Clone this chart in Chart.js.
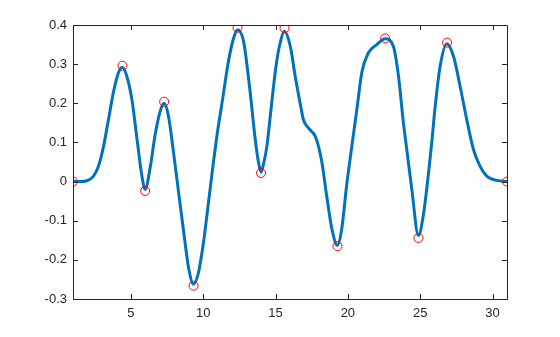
<!DOCTYPE html>
<html>
<head>
<meta charset="utf-8">
<script src="https://cdn.jsdelivr.net/npm/chart.js@4/dist/chart.umd.min.js"></script>
<style>
  html, body { margin: 0; padding: 0; background: #fff; }
  #grafico { display: block; }
</style>
</head>
<body>
<canvas id="grafico" width="560" height="337"></canvas>
<script>
// curva suavizada
const curveX = [1, 1.5, 1.96, 2.42, 2.76, 3.11, 3.45, 3.8, 4.14, 4.42, 4.72, 5.07, 5.42, 5.76, 5.99,
  6.34, 6.68, 7.03, 7.3, 7.6, 7.95, 8.29, 8.64, 8.98, 9.33, 9.67, 10.02, 10.36, 10.71, 11.0,
  11.29, 11.75, 12.09, 12.37, 12.78, 13.25, 13.59, 13.82, 14.0, 14.17, 14.4, 14.63, 14.86, 15.09,
  15.32, 15.6, 16.02, 16.36, 16.7, 16.93, 17.27, 17.74, 17.97, 18.2, 18.55, 18.89, 19.28, 19.58,
  19.93, 20.2, 20.62, 20.97, 21.42, 22.0, 22.58, 23.15, 23.5, 23.84, 24.08, 24.42, 24.88, 25.22,
  25.57, 25.8, 26.03, 26.38, 26.84, 27.3, 27.76, 28.22, 28.68, 29.14, 29.6, 30.29, 31];
const curveY = [0, 0, 0.002, 0.014, 0.039, 0.09, 0.158, 0.229, 0.278, 0.292, 0.269, 0.21, 0.11, 0.015, -0.02,
  0.037, 0.12, 0.18, 0.2, 0.167, 0.074, -0.025, -0.125, -0.218, -0.262, -0.233, -0.155, -0.055, 0.05, 0.13,
  0.198, 0.308, 0.365, 0.388, 0.36, 0.227, 0.11, 0.05, 0.024, 0.045, 0.09, 0.165, 0.243, 0.31,
  0.354, 0.384, 0.346, 0.269, 0.2, 0.158, 0.137, 0.116, 0.09, 0.05, -0.04, -0.12, -0.163, -0.12,
  -0.005, 0.07, 0.184, 0.28, 0.329, 0.35, 0.365, 0.345, 0.269, 0.15, 0.08, -0.02, -0.138, -0.085,
  0.02, 0.1, 0.19, 0.295, 0.352, 0.32, 0.243, 0.158, 0.082, 0.039, 0.014, 0.003, 0];

// extremos marcados con circulos rojos
const peakX = [1, 4.42, 5.99, 7.3, 9.33, 12.37, 14.0, 15.62, 19.28, 22.58, 24.88, 26.86, 31];
const peakY = [0, 0.296, -0.024, 0.204, -0.266, 0.393, 0.022, 0.392, -0.165, 0.366, -0.144, 0.355, 0];

const xTicks = [5, 10, 15, 20, 25, 30];
const yTicks = [-0.3, -0.2, -0.1, 0, 0.1, 0.2, 0.3, 0.4];

const axisColor = '#262626';

// caja y marcas hacia adentro, estilo octave
const boxPlugin = {
    id: 'caja',
    afterDraw(chart) {
        const ctx = chart.ctx;
        const a = chart.chartArea;
        const xs = chart.scales.x;
        const ys = chart.scales.y;
        const tl = 5;
        ctx.save();
        ctx.strokeStyle = axisColor;
        ctx.lineWidth = 1;
        ctx.beginPath();
        ctx.rect(Math.round(a.left) + 0.5, Math.round(a.top) + 0.5,
            Math.round(a.right - a.left), Math.round(a.bottom - a.top));
        xTicks.forEach(v => {
            const px = Math.round(xs.getPixelForValue(v)) + 0.5;
            ctx.moveTo(px, a.bottom);
            ctx.lineTo(px, a.bottom - tl);
            ctx.moveTo(px, a.top);
            ctx.lineTo(px, a.top + tl);
        });
        yTicks.forEach(v => {
            const py = Math.round(ys.getPixelForValue(v)) + 0.5;
            ctx.moveTo(a.left, py);
            ctx.lineTo(a.left + tl, py);
            ctx.moveTo(a.right, py);
            ctx.lineTo(a.right - tl, py);
        });
        ctx.stroke();
        ctx.restore();
    }
};

const fuente = { family: "'Liberation Sans', Arial, sans-serif", size: 13 };

const config = {
    type: 'scatter',
    data: {
        datasets: [
            {
                label: 'extremos',
                data: peakX.map((x, i) => ({ x: x, y: peakY[i] })),
                showLine: false,
                pointStyle: 'circle',
                pointRadius: 4.5,
                pointBorderWidth: 1,
                pointBorderColor: '#ff0000',
                pointBackgroundColor: 'rgba(0,0,0,0)',
            },
            {
                label: 'senal',
                data: curveX.map((x, i) => ({ x: x, y: curveY[i] })),
                showLine: true,
                borderColor: '#0072bd',
                borderWidth: 3,
                pointRadius: 0,
                cubicInterpolationMode: 'monotone',
            }
        ]
    },
    options: {
        responsive: false,
        animation: false,
        layout: { padding: { top: 25, right: 53, left: 0, bottom: 0 } },
        plugins: {
            legend: { display: false },
            tooltip: { enabled: false },
        },
        scales: {
            x: {
                type: 'linear',
                min: 1,
                max: 31,
                afterBuildTicks: (scale) => { scale.ticks = xTicks.map(v => ({ value: v })); },
                afterFit: (scale) => { scale.height = 38; },
                grid: { display: false, drawTicks: false },
                border: { display: false },
                ticks: { color: axisColor, font: fuente, padding: 7, maxRotation: 0 },
            },
            y: {
                min: -0.3,
                max: 0.4,
                afterBuildTicks: (scale) => { scale.ticks = yTicks.map(v => ({ value: v })); },
                afterFit: (scale) => { scale.width = 73; },
                grid: { display: false, drawTicks: false },
                border: { display: false },
                ticks: {
                    color: axisColor,
                    font: fuente,
                    padding: 6,
                    callback: (v) => (Math.abs(v) < 1e-9 ? '0' : v.toFixed(1)),
                },
            },
        },
    },
    plugins: [boxPlugin],
};

new Chart(document.getElementById('grafico').getContext('2d'), config);
</script>
</body>
</html>
